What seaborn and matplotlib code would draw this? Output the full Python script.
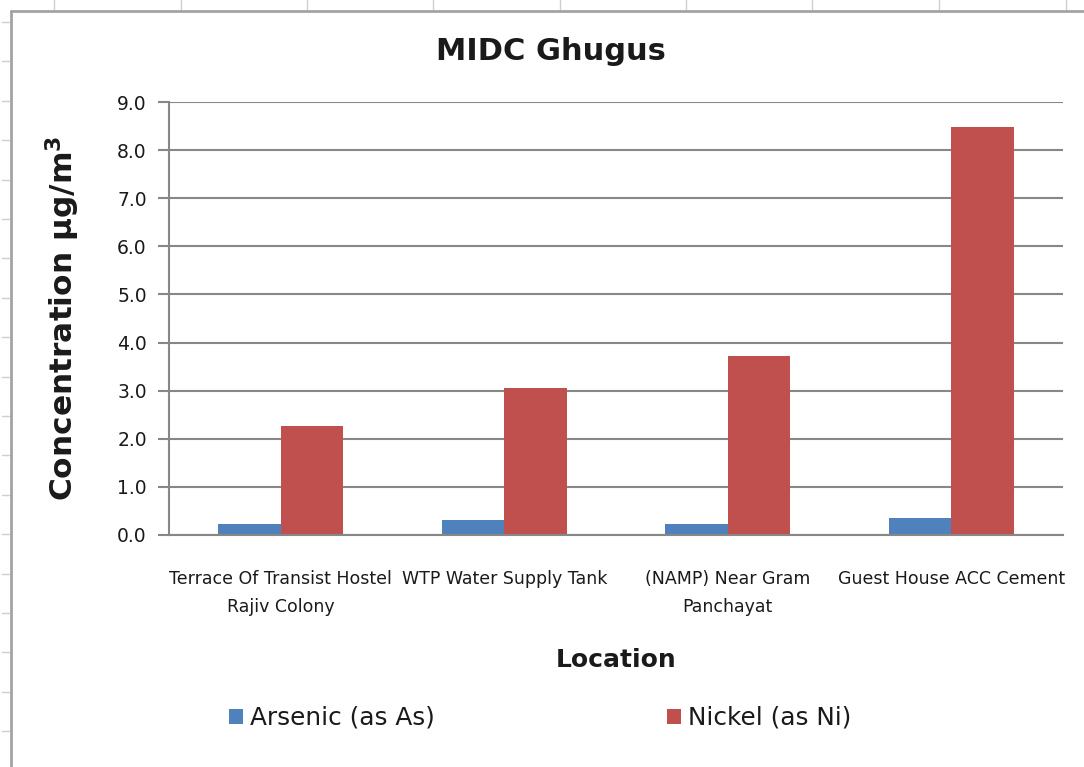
import matplotlib
matplotlib.use("Agg")
import matplotlib.pyplot as plt
from matplotlib.lines import Line2D
import seaborn as sns
import pandas as pd

# Location labels and measured concentrations (µg/m³)
locations = [
    "Terrace Of Transist Hostel\nRajiv Colony",
    "WTP Water Supply Tank",
    "(NAMP) Near Gram\nPanchayat",
    "Guest House ACC Cement",
]
arsenic = [0.23, 0.31, 0.23, 0.35]
nickel = [2.27, 3.06, 3.72, 8.47]
series_names = ["Arsenic (as As)", "Nickel (as Ni)"]
y_ticks = [0.0, 1.0, 2.0, 3.0, 4.0, 5.0, 6.0, 7.0, 8.0, 9.0]

df = pd.DataFrame({
    "Location": locations * 2,
    "Series": [series_names[0]] * len(locations) + [series_names[1]] * len(locations),
    "Concentration": arsenic + nickel,
})

sns.set_theme(style="white")
plt.rcParams["font.family"] = ["DejaVu Sans"]

W, H = 1084, 767
fig = plt.figure(figsize=(W / 100, H / 100), dpi=100)
fig.patch.set_facecolor("white")

# worksheet cell marks behind the chart object
cell_col = "#cfcfcf"
for x in [54, 181, 307, 433, 560, 686, 812, 939, 1066]:
    fig.add_artist(Line2D([x / W, x / W], [1, 1 - 10 / H], color=cell_col, lw=1))
y = 22.0
while y < H:
    fig.add_artist(Line2D([2 / W, 10 / W], [1 - y / H, 1 - y / H], color=cell_col, lw=1))
    y += 39.4
# chart object frame (left and top edges)
frame_col = "#a3a3a3"
fig.add_artist(Line2D([11 / W, 11 / W], [0, 1 - 11 / H], color=frame_col, lw=2))
fig.add_artist(Line2D([11 / W, 1], [1 - 11 / H, 1 - 11 / H], color=frame_col, lw=2))

left, right, top, bottom = 169, 1063, 102, 535
ax = fig.add_axes([left / W, 1 - bottom / H, (right - left) / W, (bottom - top) / H])

palette = {series_names[0]: "#4F81BD", series_names[1]: "#C0504D"}
sns.barplot(
    data=df, x="Location", y="Concentration", hue="Series",
    palette=palette, width=0.56, gap=0, saturation=1, ax=ax,
    edgecolor="none", linewidth=0, legend=True,
)

ax.set_ylim(0, 9)
ax.set_yticks(y_ticks)
ax.set_yticklabels([f"{v:.1f}" for v in y_ticks], fontsize=13.5, color="#1a1a1a")
ax.set_xlim(-0.5, len(locations) - 0.5)

grid_col = "#878787"
ax.yaxis.grid(True, color=grid_col, lw=1.5)
ax.set_axisbelow(True)
for side in ["top", "right"]:
    ax.spines[side].set_visible(False)
ax.spines["left"].set_color(grid_col)
ax.spines["left"].set_linewidth(1.5)
ax.spines["bottom"].set_color(grid_col)
ax.spines["bottom"].set_linewidth(1.5)
ax.tick_params(axis="y", which="major", direction="out", length=8, width=1.5,
               color=grid_col, left=True, pad=8)
ax.tick_params(axis="x", length=0, pad=25)

ax.set_xticks(range(len(locations)))
ax.set_xticklabels(locations, fontsize=12.5, color="#1a1a1a", linespacing=1.75, va="top")

ax.set_xlabel("Location", fontsize=18, fontweight="bold", labelpad=23, color="#1a1a1a")
ax.set_ylabel(r"Concentration µg/m$^{\mathbf{3}}$", fontsize=22.5, fontweight="bold",
              color="#1a1a1a")
ax.yaxis.set_label_coords((82 - left) / (right - left), 0.5)

fig.text(551 / W, 1 - 51 / H, "MIDC Ghugus", ha="center", va="center",
         fontsize=22, fontweight="bold", color="#1a1a1a")

leg = ax.legend(
    loc="center left", bbox_to_anchor=((229 - left) / (right - left), (bottom - 718) / (bottom - top)),
    ncol=2, frameon=False, borderpad=0, borderaxespad=0,
    fontsize=17.8, handlelength=0.55, handleheight=0.55, handletextpad=0.3,
    columnspacing=9.4,
)
for t in leg.get_texts():
    t.set_color("#1a1a1a")

fig.savefig("out.png", dpi=100, facecolor="white")
